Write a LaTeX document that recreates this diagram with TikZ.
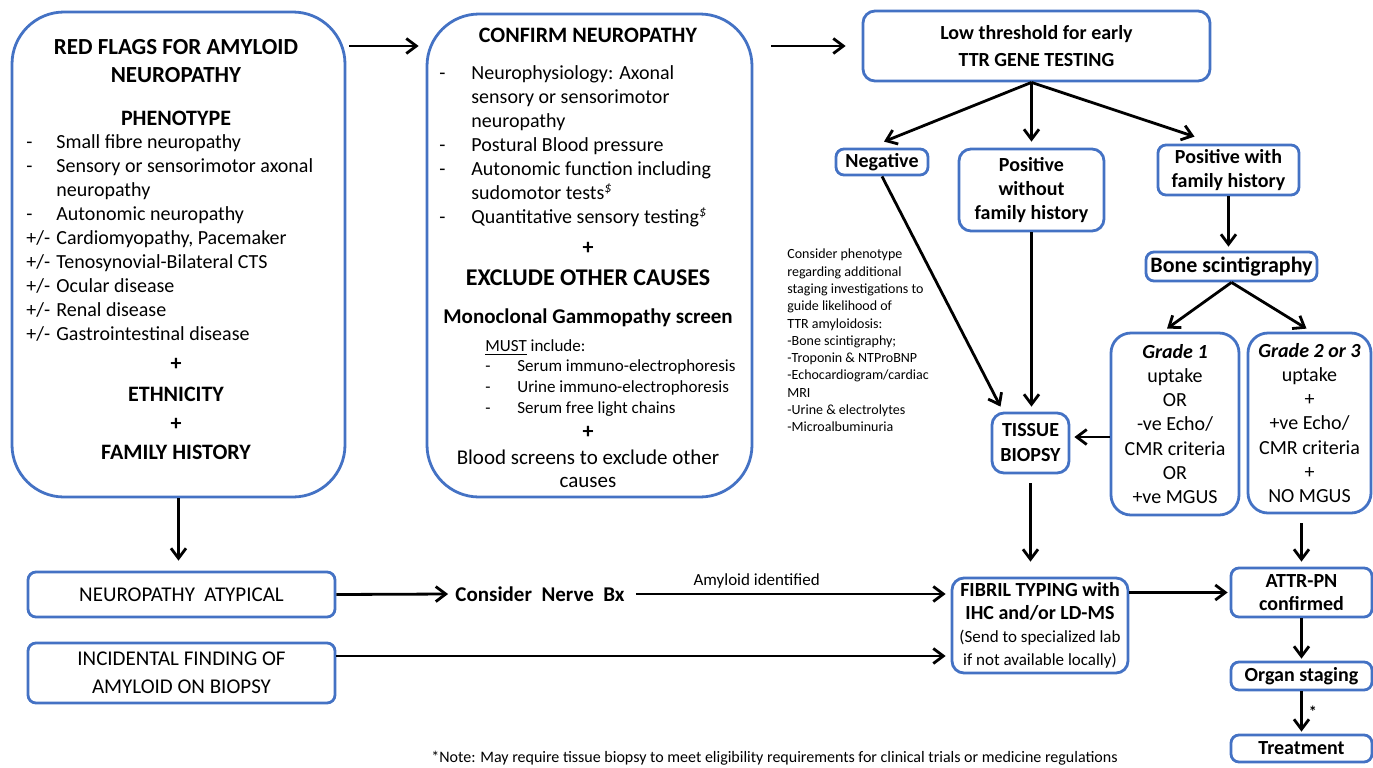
\documentclass[tikz,border=0pt]{standalone}
\usepackage{fontspec}
\setmainfont{Carlito}
\usetikzlibrary{arrows.meta, positioning}
\definecolor{boxblue}{HTML}{4472C4}

\begin{document}
\begin{tikzpicture}[
    x=0.5pt, y=-0.5pt,
    every node/.style={font=\fontsize{10}{12}\selectfont, align=center, inner sep=0pt},
    bigbox/.style={draw=boxblue, line width=1.4pt, rounded corners=26pt},
    box/.style={draw=boxblue, line width=1.4pt, rounded corners=4pt,
                font=\fontsize{10}{12}\selectfont\bfseries},
    plainbox/.style={draw=boxblue, line width=1.4pt, rounded corners=4pt,
                font=\fontsize{10.5}{14}\selectfont},
    head/.style={font=\fontsize{11}{14}\selectfont\bfseries},
    arr/.style={-{Straight Barb[length=5pt,width=7.5pt]}, line width=1.4pt},
    lbl/.style={font=\fontsize{8}{10}\selectfont}
]
\useasboundingbox (0,0) rectangle (1373,767);

\node[bigbox, minimum width=166.5pt, minimum height=242.5pt] (redflags) at (178.5,254.5) {};
\node[head, font=\fontsize{11.5}{14}\selectfont\bfseries] (rftitle) at (176,61) {RED FLAGS FOR AMYLOID\\NEUROPATHY};
\node[head] (phenotype) at (176,118) {PHENOTYPE};
\node[anchor=west, align=left] (rflist) at (26,240) {\begin{tabular}{@{}p{15pt}@{}l@{}}
-   & Small fibre neuropathy\\
-   & Sensory or sensorimotor axonal\\
    & neuropathy\\
-   & Autonomic neuropathy\\
+/- & Cardiomyopathy, Pacemaker\\
+/- & Tenosynovial-Bilateral CTS\\
+/- & Ocular disease\\
+/- & Renal disease\\
+/- & Gastrointestinal disease
\end{tabular}};
\node[head] (rfplus1) at (176,364) {+};
\node[head] (ethnicity) at (176,394) {ETHNICITY};
\node[head] (rfplus2) at (176,424) {+};
\node[head] (famhist) at (176,452) {FAMILY HISTORY};

\node[bigbox, minimum width=162.5pt, minimum height=241.5pt] (confirm) at (589.5,255.5) {};
\node[head] (cftitle) at (588,35) {CONFIRM NEUROPATHY};
\node[anchor=west, align=left] (cflist) at (439,147) {\begin{tabular}{@{}p{16pt}@{}l@{}}
- & Neurophysiology: Axonal\\
  & sensory or sensorimotor\\
  & neuropathy\\
- & Postural Blood pressure\\
- & Autonomic function including\\
  & sudomotor tests\textsuperscript{\itshape\$}\\
- & Quantitative sensory testing\textsuperscript{\itshape\$}
\end{tabular}};
\node[head] (cfplus) at (588,248) {+};
\node[head, font=\fontsize{12}{14}\selectfont\bfseries] (exclude) at (588,278) {EXCLUDE OTHER CAUSES};
\node[font=\fontsize{10.5}{12}\selectfont\bfseries] (mgscreen) at (588,318) {Monoclonal Gammopathy screen};
\node[anchor=west, align=left, font=\fontsize{8.5}{10.3}\selectfont] (mustlist) at (485,378) {\begin{tabular}{@{}p{16pt}@{}l@{}}
\multicolumn{2}{@{}l@{}}{\underline{MUST} include:}\\
- & Serum immuno-electrophoresis\\
- & Urine immuno-electrophoresis\\
- & Serum free light chains
\end{tabular}};
\node[head] (mgplus) at (588,432) {+};
\node[font=\fontsize{10.5}{11.5}\selectfont] (blood) at (588,468.5) {Blood screens to exclude other\\causes};

\node[box, minimum width=173.5pt, minimum height=35pt, rounded corners=6pt,
      font=\fontsize{10}{13.5}\selectfont\bfseries] (ttr) at (1036.5,46) {Low threshold for early\\TTR GENE TESTING};
\node[box, minimum width=46pt, minimum height=13pt] (neg) at (882,162) {Negative};
\node[box, minimum width=72.5pt, minimum height=41pt, rounded corners=6pt] (poswo) at (1031.5,190) {Positive\\without\\family history};
\node[box, minimum width=70.5pt, minimum height=25pt] (poswith) at (1228.5,170) {Positive with\\family history};
\node[box, minimum width=85.5pt, minimum height=14.5pt, font=\fontsize{11}{13}\selectfont\bfseries] (bone) at (1231.5,266.5) {Bone scintigraphy};
\node[box, minimum width=64pt, minimum height=91pt, rounded corners=10pt,
      font=\fontsize{10}{12.1}\selectfont] (grade1) at (1175,424) {\textbf{\textit{Grade 1}}\\uptake\\OR\\-ve Echo/\\CMR criteria\\OR\\+ve MGUS};
\node[box, minimum width=61.5pt, minimum height=90pt, rounded corners=10pt,
      font=\fontsize{10}{12.1}\selectfont] (grade2) at (1309.5,423) {\textbf{\textit{Grade 2 or 3}}\\uptake\\+\\+ve Echo/\\CMR criteria\\+\\NO MGUS};
\node[anchor=west, align=left, font=\fontsize{7}{8.65}\selectfont] (stagenote) at (787,340.5) {Consider phenotype\\regarding additional\\staging investigations to\\guide likelihood of\\TTR amyloidosis:\\-Bone scintigraphy;\\-Troponin \& NTProBNP\\-Echocardiogram/cardiac\\MRI\\-Urine \& electrolytes\\-Microalbuminuria};
\node[box, minimum width=38.5pt, minimum height=30pt, rounded corners=6pt,
      font=\fontsize{10}{12.5}\selectfont\bfseries] (tissue) at (1030.5,443) {TISSUE\\BIOPSY};
\node[box, minimum width=88pt, minimum height=47.5pt, rounded corners=6pt,
      font=\fontsize{10}{11.5}\selectfont\bfseries] (fibril) at (1040,625.5) {FIBRIL TYPING with\\IHC and/or LD-MS\\\textmd{\fontsize{8.5}{10}\selectfont (Send to specialized lab}\\\textmd{\fontsize{8.5}{10}\selectfont if not available locally)}};
\node[box, minimum width=70.5pt, minimum height=24.5pt, font=\fontsize{10}{11.5}\selectfont\bfseries] (attr) at (1301.5,592.5) {ATTR-PN\\confirmed};
\node[box, minimum width=70.5pt, minimum height=14pt] (organ) at (1301.5,676) {Organ staging};
\node[box, minimum width=70.5pt, minimum height=13.5pt] (treatment) at (1301.5,748.5) {Treatment};

\node[plainbox, minimum width=153.5pt, minimum height=22.5pt] (atypical) at (181.5,594.5) {NEUROPATHY\ \ ATYPICAL};
\node[plainbox, minimum width=153.5pt, minimum height=30pt] (incidental) at (181.5,673) {INCIDENTAL FINDING OF\\AMYLOID ON BIOPSY};
\node[font=\fontsize{10.5}{12}\selectfont\bfseries] (nervebx) at (540,594) {Consider\ \ Nerve\ \ Bx};
\node[anchor=base west, lbl] (footnote) at (431,762) {*Note: May require tissue biopsy to meet eligibility requirements for clinical trials or medicine regulations};

\coordinate (fork) at (poswo.north |- ttr.south);

\draw[arr] ([xshift=1.5pt]redflags.east |- ttr.west) -- ([xshift=-3.5pt]confirm.west |- ttr.west);
\draw[arr] ([xshift=9pt]confirm.east |- ttr.west) -- ([xshift=-8pt]ttr.west);
\draw[arr] (fork) -- ([xshift=1pt,yshift=3pt]neg.north);
\draw[arr] (fork) -- ([yshift=3pt]poswo.north);
\draw[arr] (fork) -- ([xshift=-17pt,yshift=3.5pt]poswith.north);
\draw[arr] (neg.south) -- ([xshift=-15pt,yshift=2.5pt]tissue.north);
\draw[arr] (poswo.south) -- ([yshift=2.5pt]poswo.south |- tissue.north);
\draw[arr] (poswith.south) -- ([yshift=2pt]poswith.south |- bone.north);
\draw[arr] (bone.south) -- ([xshift=-4pt,yshift=1.5pt]grade1.north);
\draw[arr] (bone.south) -- ([xshift=-1.5pt,yshift=1.5pt]grade2.north);
\draw[arr] ([yshift=3pt]tissue.east -| grade1.west) -- ([xshift=2pt,yshift=3pt]tissue.east);
\draw[arr] ([yshift=-4.5pt]tissue.south) -- ([yshift=7.5pt]tissue.south |- fibril.north);
\draw[arr] ([yshift=-4.5pt]attr.north |- grade2.south) -- ([yshift=2.5pt]attr.north);
\draw[arr] (redflags.south) -- ([yshift=5pt]redflags.south |- atypical.north);
\draw[arr] (atypical.east) -- ([xshift=-3.5pt]nervebx.west);
\draw[arr] ([xshift=5.5pt]nervebx.east) -- node[lbl, above=2pt, pos=0.39, font=\fontsize{8.5}{10}\selectfont] (amyloid) {Amyloid identified} ([xshift=-2.5pt]nervebx.east -| fibril.west);
\draw[arr] ([yshift=8.5pt]incidental.east) -- ([xshift=-2.5pt,yshift=8.5pt]incidental.east -| fibril.west);
\draw[arr] (fibril.east |- attr.west) -- ([xshift=-1pt]attr.west);
\draw[arr] (attr.south) -- ([yshift=1pt]organ.north);
\draw[arr] (organ.south) -- node[lbl, right=3pt, font=\fontsize{8}{10}\selectfont\bfseries] (star) {*} ([yshift=1pt]treatment.north);
\end{tikzpicture}
\end{document}
